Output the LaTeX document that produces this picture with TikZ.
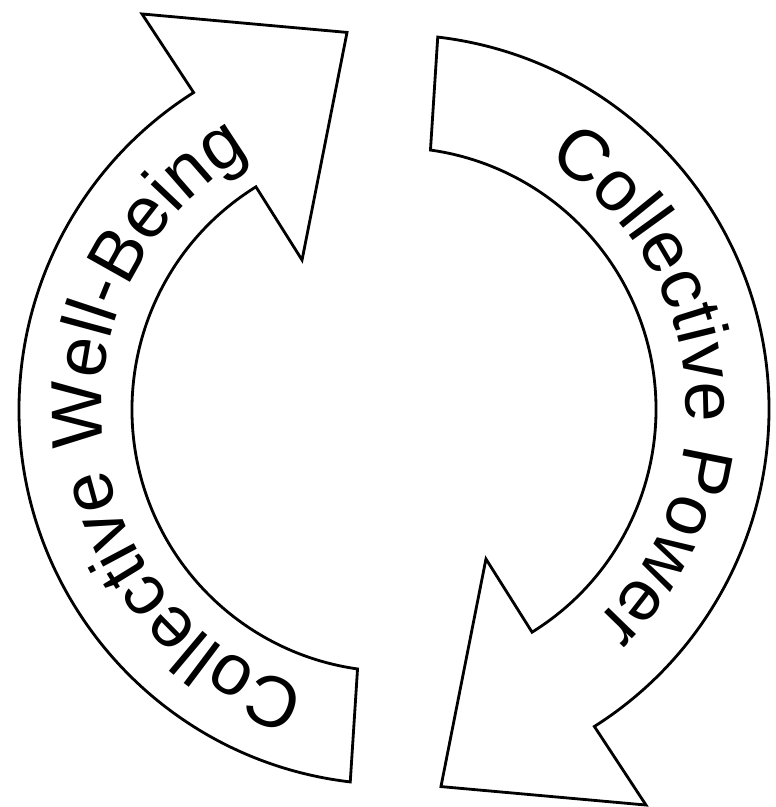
\documentclass[tikz,border=0pt]{standalone}
\usepackage{fontspec}
\setmainfont{Liberation Sans}
\usetikzlibrary{decorations.text}
\newfontfamily\cyclefont{Liberation Sans}

\begin{document}
\begin{tikzpicture}[
    band/.style={draw, line width=1.6pt, fill=white, miter limit=20},
    lbl/.style={decorate, decoration={text along path, text align=center, text={#1}}}
]
\useasboundingbox (-7.88,-7.95) rectangle (7.62,8.19);

% left arrow, going up
\draw[band] (263.3:7.5) arc[start angle=263.3, end angle=122.3, radius=7.5]
    -- (122.5:9.38) -- (97.1:7.6) -- (121.6:3.51) -- (121.8:5.24)
    arc[start angle=121.8, end angle=262, radius=5.24] -- cycle;

% right arrow, going down
\draw[band] (83.3:7.5) arc[start angle=83.3, end angle=-57.7, radius=7.5]
    -- (-57.5:9.38) -- (-82.9:7.6) -- (-58.4:3.51) -- (-58.2:5.24)
    arc[start angle=-58.2, end angle=82, radius=5.24] -- cycle;

% labels along the arcs
\path[lbl={|\cyclefont\fontsize{41}{41}\selectfont|Collective Well-Being}]
    (276:5.85) arc[start angle=276, end angle=96, radius=5.85];
\path[lbl={|\cyclefont\fontsize{41}{41}\selectfont|Collective Power}]
    (96:5.85) arc[start angle=96, end angle=-84, radius=5.85];
\end{tikzpicture}
\end{document}
